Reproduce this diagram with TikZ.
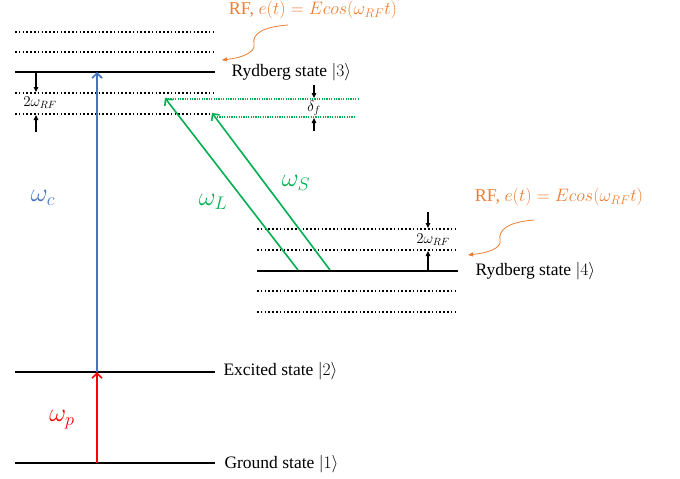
\RequirePackage{fix-cm}
\documentclass[tikz,border=0pt]{standalone}
\usepackage{fontspec}
\setmainfont{Liberation Serif}
\usetikzlibrary{arrows.meta}
\definecolor{rforange}{RGB}{237,125,49}
\definecolor{couplblue}{RGB}{68,114,196}
\definecolor{lasergreen}{RGB}{0,176,80}
\tikzset{
  level/.style={line width=1.6pt},
  sublevel/.style={line width=1.6pt, dash pattern=on 1.6pt off 2.2pt},
  detuned/.style={lasergreen, line width=1.2pt, dash pattern=on 1.2pt off 1.2pt},
  gap/.style={-{Triangle[length=5pt,width=4.5pt]}, line width=1.1pt},
  beam/.style={-{Straight Barb[length=5pt,width=10pt]}, line width=1.6pt},
  rfwave/.style={rforange, line width=0.8pt, -{Triangle[length=5pt,width=4pt]}},
  statelabel/.style={anchor=west, font=\fontsize{17.5}{20}\selectfont},
  rflabel/.style={rforange, font=\fontsize{18}{21}\selectfont},
  freq/.style={font=\fontsize{26}{30}\selectfont},
  small/.style={font=\fontsize{15}{17}\selectfont}
}
\begin{document}
\begin{tikzpicture}[x=1pt,y=-1pt]
\useasboundingbox (0,0) rectangle (680,479);
% state |3> and its RF sidebands
\draw[sublevel] (15,32)--(215,32);
\draw[sublevel] (15,52)--(215,52);
\draw[level] (15,72)--(215,72);
\draw[sublevel] (15,93)--(215,93);
\draw[sublevel] (15,114)--(215,114);
\node[statelabel] (ryd3) at (228,72) {Rydberg state $|3\rangle$};
\coordinate (c3) at (97,72);
\coordinate (l3) at (165,98);
\coordinate (s3) at (212,113);
% detuning
\draw[detuned] (168,99)--(358,99);
\draw[detuned] (217,117)--(355,117);
\coordinate (df1) at (314,85);
\coordinate (df2) at (314,131);
\draw[gap] (df1)--(314,98);
\draw[gap] (df2)--(314,118);
\node[small] (df) at (314,108) {$\delta_f$};
% 2 omega_RF of |3>
\coordinate (g1) at (36,72);
\coordinate (g2) at (36,132);
\draw[gap] (g1)--(36,92);
\draw[gap] (g2)--(36,115);
\node[small] (gap3) at (40,103) {$2\omega_{RF}$};
% state |4> and its RF sidebands
\draw[sublevel] (257,229)--(458,229);
\draw[sublevel] (257,250)--(458,250);
\draw[level] (257,271)--(458,271);
\draw[sublevel] (257,291)--(458,291);
\draw[sublevel] (257,312)--(458,312);
\node[statelabel] (ryd4) at (472,271) {Rydberg state $|4\rangle$};
\coordinate (l4) at (298,270);
\coordinate (s4) at (330,270);
\coordinate (h1) at (428,212);
\coordinate (h2) at (428,271);
\draw[gap] (h1)--(428,228);
\draw[gap] (h2)--(428,251);
\node[small] (gap4) at (433,240) {$2\omega_{RF}$};
% excited and ground states
\draw[level] (15,372)--(215,372);
\draw[level] (15,463)--(215,463);
\node[statelabel] (exc) at (220,371) {Excited state $|2\rangle$};
\node[statelabel] (gnd) at (221,464) {Ground state $|1\rangle$};
\coordinate (c2) at (97,372);
\coordinate (p1) at (97,463);
% lasers
\draw[beam, red] (p1)--(c2);
\draw[beam, couplblue] (c2)--(c3);
\draw[beam, lasergreen] (l4)--(l3);
\draw[beam, lasergreen] (s4)--(s3);
\node[freq, red] (wp) at (62,420) {$\omega_p$};
\node[freq, couplblue] (wc) at (43,198) {$\omega_c$};
\node[freq, lasergreen] (wl) at (213,202) {$\omega_L$};
\node[freq, lasergreen] (ws) at (296,183) {$\omega_S$};
% RF fields
\node[rflabel] (rf3) at (313,10) {RF, $e(t)=Ecos(\omega_{RF}t)$};
\node[rflabel] (rf4) at (559,197) {RF, $e(t)=Ecos(\omega_{RF}t)$};
\coordinate (rf3a) at (288,25);
\coordinate (rf4a) at (534,220);
\draw[rfwave] (rf3a) .. controls (262,27) and (252,34) .. (254,44)
  .. controls (256,53) and (240,58) .. (222,60);
\draw[rfwave] (rf4a) .. controls (508,222) and (498,230) .. (500,240)
  .. controls (502,249) and (486,253) .. (468,255);
\end{tikzpicture}
\end{document}
